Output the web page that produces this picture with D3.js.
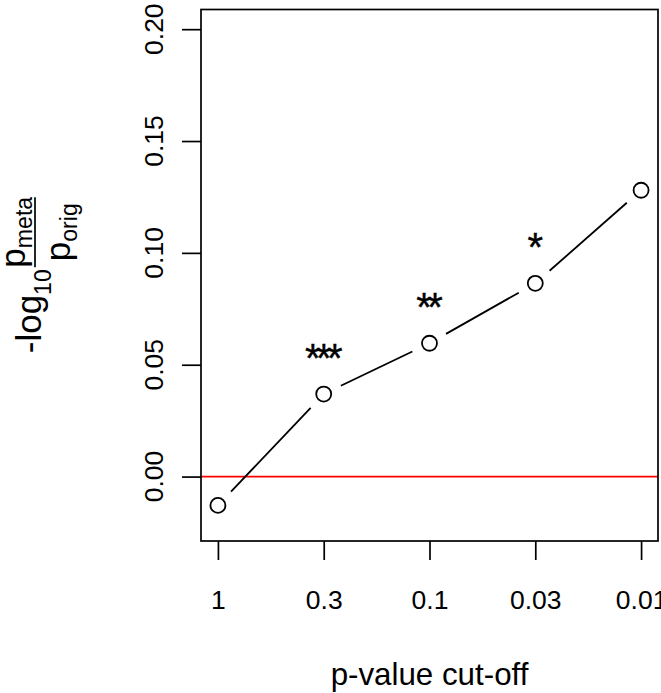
<!DOCTYPE html>
<html>
<head>
<meta charset="utf-8">
<script src="https://cdn.jsdelivr.net/npm/d3@7"></script>
<style>
  body { margin: 0; background: #fff; }
  svg { display: block; font-family: "Liberation Sans", Arial, Helvetica, sans-serif; }
</style>
</head>
<body>
<div id="chart"></div>
<script>
// p-value cut-offs, one per position along x
var cutoffs = ["1", "0.3", "0.1", "0.03", "0.01"];
// -log10(p_meta / p_orig) at each cut-off
var values = [-0.0129, 0.0369, 0.0596, 0.0864, 0.128];
// significance marks drawn above each point
var stars = ["", "***", "**", "*", ""];
var yTicks = [0, 0.05, 0.10, 0.15, 0.20];

var width = 661, height = 693;
var margin = {top: 9.5, right: 3, bottom: 152, left: 201};

var fsAxis = 26.5, fsLab = 31.3, fsMath = 35, fsStar = 40;
var lineH = 38;          // one R "line" of margin
var starOffset = 0.02;   // stars sit this far above the point
var gap = 19;            // type="b" gap around each circle

var pos = cutoffs.map((d, i) => i + 1);

var x = d3.scaleLinear()
    .domain([0.84, 5.16])
    .range([margin.left, width - margin.right]);

var y = d3.scaleLinear()
    .domain([-0.0288, 0.2088])
    .range([height - margin.bottom, margin.top]);

var svg = d3.select("#chart").append("svg")
    .attr("width", width)
    .attr("height", height)
    .attr("viewBox", [0, 0, width, height]);

var bottom = y.range()[0];

// x axis ticks + labels
var xAxis = g => g
    .attr("transform", "translate(0," + bottom + ")")
    .call(d3.axisBottom(x).tickValues(pos).tickSize(19).tickFormat((d, i) => cutoffs[i]))
    .call(g => g.select(".domain").remove())
    .call(g => g.selectAll("line").attr("stroke", "#000").attr("stroke-width", 1.7))
    .call(g => g.selectAll("text")
        .attr("font-size", fsAxis)
        .attr("font-family", null)
        .attr("fill", "#000")
        .attr("dy", null)
        .attr("y", 1.8 * lineH));

var yAxis = g => g
    .attr("transform", "translate(" + margin.left + ",0)")
    .call(d3.axisLeft(y).tickValues(yTicks).tickSize(19).tickFormat(d3.format(".2f")))
    .call(g => g.select(".domain").remove())
    .call(g => g.selectAll("line").attr("stroke", "#000").attr("stroke-width", 1.7))
    .call(g => g.selectAll("text").remove());

svg.append("g").call(xAxis);
svg.append("g").call(yAxis);

// rotated y tick labels (las = 0)
svg.append("g")
  .selectAll("text")
  .data(yTicks)
  .join("text")
    .attr("transform", d => "translate(" + (margin.left - lineH) + "," + y(d) + ") rotate(-90)")
    .attr("text-anchor", "middle")
    .attr("font-size", fsAxis)
    .attr("fill", "#000")
    .text(d3.format(".2f"));

// red reference line at zero
svg.append("line")
    .attr("x1", x.range()[0]).attr("x2", x.range()[1])
    .attr("y1", y(0)).attr("y2", y(0))
    .attr("stroke", "#ff0000")
    .attr("stroke-width", 1.7);

// type = "b" segments with gaps round the points
var pts = pos.map((p, i) => [x(p), y(values[i])]);
var segs = d3.pairs(pts).map(([a, b]) => {
  var dx = b[0] - a[0], dy = b[1] - a[1], len = Math.hypot(dx, dy);
  var ux = dx / len, uy = dy / len;
  return [a[0] + ux * gap, a[1] + uy * gap, b[0] - ux * gap, b[1] - uy * gap];
});

svg.append("g")
  .selectAll("line")
  .data(segs)
  .join("line")
    .attr("x1", d => d[0]).attr("y1", d => d[1])
    .attr("x2", d => d[2]).attr("y2", d => d[3])
    .attr("stroke", "#000")
    .attr("stroke-width", 1.8);

svg.append("g")
  .selectAll("circle")
  .data(values)
  .join("circle")
    .attr("cx", (d, i) => x(pos[i]))
    .attr("cy", d => y(d))
    .attr("r", 7.5)
    .attr("fill", "#fff")
    .attr("stroke", "#000")
    .attr("stroke-width", 1.8);

// significance stars, ink centre on value + offset
// (the -2.3 undoes the drift from the negative letter-spacing)
svg.append("g")
  .selectAll("text")
  .data(values)
  .join("text")
    .attr("x", (d, i) => x(pos[i]) - 2.3)
    .attr("y", d => y(d + starOffset) + 0.57 * fsStar)
    .attr("text-anchor", "middle")
    .attr("font-size", fsStar)
    .attr("letter-spacing", -4.6)
    .attr("fill", "#000")
    .attr("stroke", "#000")
    .attr("stroke-width", 0.4)
    .text((d, i) => stars[i]);

// plot box
svg.append("rect")
    .attr("x", x.range()[0])
    .attr("y", y.range()[1])
    .attr("width", x.range()[1] - x.range()[0])
    .attr("height", y.range()[0] - y.range()[1])
    .attr("fill", "none")
    .attr("stroke", "#000")
    .attr("stroke-width", 1.7);

// x title
svg.append("text")
    .attr("x", (x.range()[0] + x.range()[1]) / 2)
    .attr("y", bottom + 3.8 * lineH)
    .attr("text-anchor", "middle")
    .attr("font-size", fsLab)
    .attr("fill", "#000")
    .text("p-value cut-off");

// y title: -log10 (p_meta / p_orig), drawn rotated
var yc = (y.range()[0] + y.range()[1]) / 2;
var sub = 0.66;
var ttl = svg.append("g")
    .attr("transform", "translate(41," + yc + ") rotate(-90)")
    .attr("font-size", fsMath)
    .attr("fill", "#000");

var lhs = ttl.append("text")
    .attr("x", -78)
    .attr("y", 0);
lhs.append("tspan").text("-log");
lhs.append("tspan").attr("font-size", fsMath * sub).attr("dy", 10).text("10");

ttl.append("line")
    .attr("x1", 8).attr("x2", 78)
    .attr("y1", -6).attr("y2", -6)
    .attr("stroke", "#000")
    .attr("stroke-width", 1.7);

var num = ttl.append("text")
    .attr("x", 43).attr("y", -16)
    .attr("text-anchor", "middle");
num.append("tspan").text("p");
num.append("tspan").attr("font-size", fsMath * sub).attr("dy", 7).text("meta");

var den = ttl.append("text")
    .attr("x", 43).attr("y", 29)
    .attr("text-anchor", "middle");
den.append("tspan").text("p");
den.append("tspan").attr("font-size", fsMath * sub).attr("dy", 7).text("orig");
</script>
</body>
</html>
